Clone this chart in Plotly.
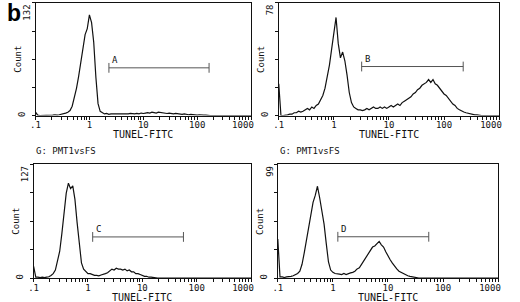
import math
import plotly.graph_objects as go

# ---------------- data ----------------
# channel positions (log10 of TUNEL-FITC intensity), 0.04-decade bins from 0.1 to 1000
channel_log = [round(-1 + 0.04 * i, 2) for i in range(101)]
channel_x = [10 ** v for v in channel_log]

counts_A = [4, 0.5, 0, 0, 0, 0, 0, 0.5, 0.5, 1,
            0.5, 1, 1.5, 2, 3, 4, 6, 11, 20, 32,
            46, 62, 80, 95, 102, 118, 109, 86, 45, 14,
            5, 3, 2, 2.5, 1.5, 2, 2, 1.5, 2, 1.5,
            2, 2, 1.5, 2, 2.5, 2, 2, 2.5, 2, 3,
            2.5, 3, 3.5, 3, 4, 3.5, 3, 4, 3.5, 3,
            3, 2.5, 3, 2.5, 2, 2.5, 2, 2, 1.5, 2,
            1.5, 1, 1.5, 1, 1, 0.5, 1, 0.5, 0.5, 0.5,
            0, 0, 0, 0, 0, 0, 0, 0, 0, 0,
            0, 0, 0, 0, 0, 0, 0, 0, 0, 0, 0]

counts_B = [22, 0, 0, 0, 0.5, 1, 1, 2, 2, 3,
            2.5, 3, 4, 5, 4, 6, 5, 7, 8, 11,
            14, 19, 26, 35, 46, 58, 68, 50, 40, 44,
            38, 28, 16, 9, 6, 5, 4, 4, 3.5, 4,
            5, 4, 5, 6, 5, 5, 6, 5, 6, 5,
            6, 7, 6, 7, 8, 7, 9, 10, 11, 12,
            13, 15, 16, 18, 19, 21, 22, 23, 25, 23,
            25, 22, 21, 19, 17, 15, 14, 12, 10, 8,
            7, 5, 4, 3, 2.5, 2, 1.5, 1, 1, 0.5,
            0.5, 0, 0, 0, 0, 0, 0, 0, 0, 0, 0]

counts_C = [13, 1, 1, 0.5, 1, 0.5, 1, 1.5, 3, 5,
            9, 18, 30, 50, 72, 95, 106, 100, 103, 88,
            62, 35, 17, 10, 7, 5, 5, 4, 3, 3,
            2.5, 3.5, 4, 5, 6, 8, 10, 9, 11, 10,
            10, 9, 10, 8, 9, 7, 7, 5, 5, 4,
            3, 2, 2, 1, 1, 0.5, 0.5, 0, 0, 0,
            0, 0, 0, 0, 0, 0, 0, 0, 0, 0,
            0, 0, 0, 0, 0, 0, 0, 0, 0, 0,
            0, 0, 0, 0, 0, 0, 0, 0, 0, 0,
            0, 0, 0, 0, 0, 0, 0, 0, 0, 0, 0]

counts_D = [34, 1, 1, 0.5, 1, 1, 1.5, 2, 3, 4,
            6, 12, 22, 34, 46, 57, 66, 72, 80, 70,
            60, 47, 30, 14, 7, 5, 4, 4, 3.5, 3,
            4, 3, 4, 4.5, 5, 6, 8, 9, 12, 15,
            18, 21, 24, 27, 28, 30, 32, 29, 27, 23,
            19, 16, 13, 10, 8, 6, 5, 3.5, 3, 2,
            1.5, 1, 1, 0.5, 0, 0, 0, 0, 0, 0,
            0, 0, 0, 0, 0, 0, 0, 0, 0, 0,
            0, 0, 0, 0, 0, 0, 0, 0, 0, 0,
            0, 0, 0, 0, 0, 0, 0, 0, 0, 0, 0]

y_max = [132, 78, 127, 99]
gate_names = ["A", "B", "C", "D"]
gate_start = [2.3, 3.2, 1.22, 1.23]
gate_end = [166, 223, 57, 55]
gate_level = [56, 34, 46, 36]

x_tick_vals = [0.1, 1, 10, 100, 1000]
x_tick_text = [".1", "1", "10", "100", "1000\u00a0\u00a0\u00a0"]
x_title = "TUNEL-FITC"
y_title = "Count"
gate_header = "G: PMT1vsFS"
panel_letter = "b"

all_counts = [counts_A, counts_B, counts_C, counts_D]

# ---------------- layout helpers ----------------
W, H = 520, 302


def fx(px):
    return px / W


def fy(py):
    return 1 - py / H


# plot-area pixel boxes (left, right, top, bottom)
boxes = [(32, 258, 3, 116), (287, 518, 3, 116), (30, 258, 165, 279), (286, 517, 165, 279)]
title_gap = [19, 19, 19.5, 19.5]

MONO = "DejaVu Sans Mono"
INK = "#111111"

# minor tick positions (1..9 in each decade) + 1000
minor_vals = []
for d in [0.1, 1, 10, 100]:
    for k in range(1, 10):
        minor_vals.append(d * k)
minor_vals.append(1000)
tick_text_full = [x_tick_text[x_tick_vals.index(v)] if v in x_tick_vals else "" for v in minor_vals]

fig = go.Figure()
layout = dict(
    width=W, height=H, margin=dict(l=0, r=0, t=0, b=0),
    paper_bgcolor="white", plot_bgcolor="white", showlegend=False,
    annotations=[], font=dict(family=MONO, size=9, color=INK),
)

for i in range(4):
    n = "" if i == 0 else str(i + 1)
    l, r, t, b = boxes[i]
    fig.add_trace(go.Scatter(
        x=channel_x, y=all_counts[i], mode="lines",
        line=dict(color=INK, width=1.2), xaxis="x" + n, yaxis="y" + n,
    ))
    fig.add_trace(go.Scatter(
        x=[gate_start[i], gate_end[i]], y=[gate_level[i], gate_level[i]],
        mode="lines+markers", line=dict(color="#555555", width=1),
        marker=dict(symbol="line-ns-open", size=7, line=dict(width=1, color="#555555")),
        xaxis="x" + n, yaxis="y" + n, cliponaxis=False,
    ))
    layout["xaxis" + n] = dict(
        domain=[fx(l), fx(r)], anchor="y" + n, type="log", range=[-1, 3],
        tickmode="array", tickvals=minor_vals, ticktext=tick_text_full,
        ticks="outside", ticklen=3, tickwidth=1, tickcolor=INK,
        ticklabelstandoff=-2,
        showline=True, linecolor=INK, linewidth=1, mirror=True,
        showgrid=False, zeroline=False,
        tickfont=dict(family=MONO, size=9, color=INK),
    )
    q = y_max[i] / 4
    layout["yaxis" + n] = dict(
        domain=[fy(b), fy(t)], anchor="x" + n, range=[0, y_max[i]],
        tickmode="array", tickvals=[0, q, 2 * q, 3 * q, y_max[i]],
        ticktext=["0", "", "", "", ""],
        ticks="outside", ticklen=3, tickwidth=1, tickcolor=INK,
        tickangle=-90, ticklabelstandoff=3,
        showline=True, linecolor=INK, linewidth=1, mirror=True,
        showgrid=False, zeroline=False,
        tickfont=dict(family=MONO, size=9, color=INK),
    )
    ann = layout["annotations"]
    # y max label (rotated, hanging from the top)
    nch = len(str(y_max[i]))
    ann.append(dict(text=str(y_max[i]), xref="paper", yref="paper",
                    x=fx(l - 9), y=fy(t + 2 + nch * 2.6), showarrow=False,
                    textangle=-90, xanchor="center", yanchor="middle",
                    font=dict(family=MONO, size=9, color=INK)))
    # y title
    ann.append(dict(text=y_title, xref="paper", yref="paper",
                    x=fx(l - 18), y=fy((t + b) / 2), showarrow=False,
                    textangle=-90, xanchor="center", yanchor="middle",
                    font=dict(family=MONO, size=9, color=INK)))
    # x title
    ann.append(dict(text=x_title, xref="paper", yref="paper",
                    x=fx((l + r) / 2), y=fy(b + title_gap[i]), showarrow=False,
                    xanchor="center", yanchor="middle",
                    font=dict(family=MONO, size=10, color=INK)))
    # gate letter
    ann.append(dict(text=gate_names[i], xref="x" + n, yref="y" + n,
                    x=math.log10(gate_start[i]), y=gate_level[i],
                    showarrow=False, xanchor="left", yanchor="bottom",
                    xshift=1, yshift=1, font=dict(family=MONO, size=9, color=INK)))
    if i >= 2:
        ann.append(dict(text=gate_header, xref="paper", yref="paper",
                        x=fx(l), y=fy(t - 13), showarrow=False,
                        xanchor="left", yanchor="middle",
                        font=dict(family=MONO, size=9, color=INK)))

layout["annotations"].append(dict(text="<b>" + panel_letter + "</b>", xref="paper", yref="paper",
                                  x=fx(0), y=fy(13), showarrow=False, xanchor="left", yanchor="middle",
                                  font=dict(family="Liberation Sans", size=23, color="black")))

fig.update_layout(**layout)
fig.write_html("out.html", config={"displayModeBar": False},
               post_script="document.body.style.margin='0';document.body.style.overflow='hidden';")
